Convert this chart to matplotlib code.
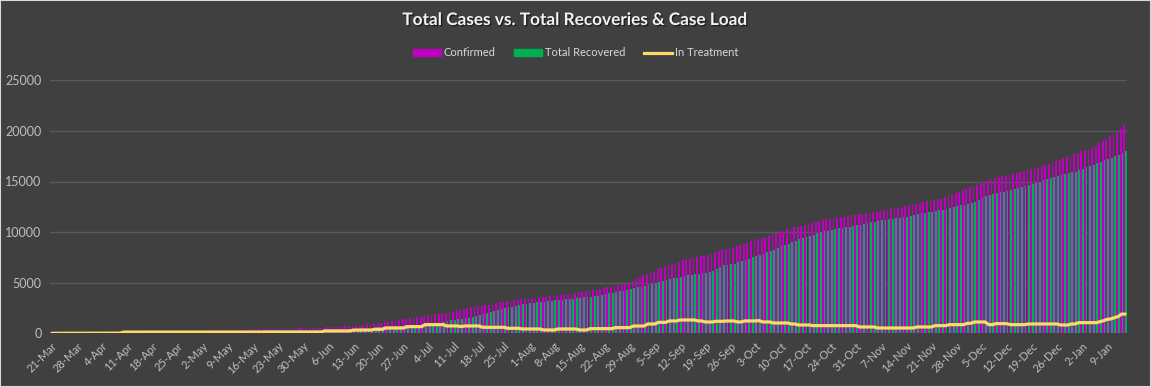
import numpy as np
import pandas as pd
import matplotlib
matplotlib.use("Agg")
import matplotlib.pyplot as plt
import matplotlib.patheffects as pe
from matplotlib.patches import Rectangle
from matplotlib.lines import Line2D

# ----------------------------------------------------------------------------
# DATA (daily, 21-Mar .. 14-Jan)
# ----------------------------------------------------------------------------
START_DATE = "2020-03-21"

confirmed = [
    1, 2, 3, 5, 6, 8, 10,
    12, 13, 14, 15, 16, 17, 18,
    19, 19, 20, 21, 22, 22, 125,
    128, 130, 133, 135, 138, 140, 142,
    145, 148, 152, 156, 160, 165, 170,
    178, 190, 205, 230, 240, 248, 255,
    262, 270, 280, 290, 300, 315, 330,
    335, 340, 345, 350, 355, 362, 370,
    378, 385, 392, 400, 408, 415, 422,
    430, 438, 445, 452, 460, 468, 476,
    484, 492, 500, 510, 520, 530, 550,
    580, 610, 625, 640, 655, 672, 690,
    710, 730, 770, 820, 870, 920, 960,
    1000, 1040, 1090, 1150, 1200, 1250, 1320,
    1380, 1430, 1480, 1530, 1590, 1645, 1700,
    1780, 1840, 1908, 1930, 1950, 1970, 2100,
    2200, 2280, 2350, 2420, 2490, 2565, 2600,
    2650, 2700, 2750, 2800, 2870, 2950, 3050,
    3125, 3170, 3210, 3250, 3300, 3355, 3390,
    3430, 3470, 3510, 3550, 3590, 3630, 3670,
    3710, 3750, 3790, 3830, 3870, 3915, 3970,
    4030, 4090, 4140, 4180, 4240, 4300, 4380,
    4470, 4530, 4600, 4680, 4750, 4800, 4900,
    5050, 5200, 5390, 5560, 5720, 5880, 6040,
    6180, 6320, 6450, 6580, 6720, 6840, 6960,
    7080, 7200, 7335, 7400, 7470, 7540, 7600,
    7630, 7750, 7870, 7990, 8100, 8220, 8310,
    8400, 8490, 8580, 8680, 8800, 8950, 9100,
    9250, 9350, 9450, 9550, 9650, 9780, 9900,
    10020, 10150, 10300, 10380, 10460, 10540, 10630,
    10720, 10810, 10900, 10990, 11080, 11180, 11250,
    11310, 11370, 11430, 11480, 11530, 11580, 11650,
    11710, 11760, 11810, 11870, 11920, 11970, 12030,
    12090, 12150, 12210, 12270, 12340, 12400, 12470,
    12600, 12670, 12740, 12810, 12880, 12960, 13030,
    13100, 13170, 13240, 13320, 13420, 13520, 13650,
    13870, 14000, 14140, 14280, 14440, 14560, 14680,
    14800, 14950, 15100, 15200, 15300, 15400, 15500,
    15590, 15680, 15770, 15860, 15940, 16020, 16120,
    16230, 16340, 16450, 16550, 16650, 16750, 16880,
    17000, 17140, 17280, 17420, 17560, 17730, 17860,
    17980, 18100, 18220, 18350, 18550, 18800, 19000,
    19210, 19450, 19700, 19900, 20200, 20560,
]

recovered = [
    0, 0, 0, 0, 0, 0, 0,
    0, 0, 0, 0, 0, 0, 0,
    0, 0, 0, 0, 0, 1, 2,
    3, 5, 8, 10, 12, 15, 18,
    22, 26, 30, 34, 38, 42, 46,
    50, 55, 60, 70, 80, 90, 100,
    110, 120, 130, 140, 150, 165, 180,
    190, 200, 210, 220, 230, 240, 250,
    258, 266, 274, 282, 290, 298, 305,
    310, 315, 320, 325, 330, 335, 340,
    345, 350, 355, 360, 365, 370, 380,
    390, 400, 410, 420, 430, 440, 450,
    440, 460, 480, 510, 540, 570, 600,
    640, 670, 700, 720, 740, 750, 765,
    780, 800, 820, 840, 860, 880, 890,
    900, 940, 980, 1020, 1100, 1200, 1280,
    1350, 1390, 1440, 1490, 1530, 1580, 1680,
    1780, 1880, 1980, 2070, 2170, 2270, 2370,
    2470, 2550, 2630, 2710, 2790, 2860, 2900,
    2950, 3000, 3050, 3090, 3130, 3170, 3220,
    3260, 3290, 3320, 3350, 3390, 3420, 3460,
    3500, 3540, 3580, 3620, 3670, 3730, 3800,
    3880, 3940, 4010, 4080, 4150, 4210, 4290,
    4370, 4450, 4540, 4620, 4710, 4800, 4880,
    4970, 5060, 5150, 5240, 5330, 5430, 5500,
    5560, 5640, 5720, 5780, 5830, 5870, 5910,
    5950, 6010, 6200, 6380, 6550, 6710, 6760,
    6800, 6880, 7040, 7160, 7280, 7390, 7500,
    7600, 7720, 7860, 7990, 8120, 8250, 8420,
    8600, 8720, 8850, 8990, 9130, 9270, 9410,
    9540, 9650, 9760, 9870, 9980, 10060, 10140,
    10220, 10300, 10390, 10440, 10500, 10550, 10610,
    10660, 10730, 10800, 10880, 10950, 11020, 11080,
    11150, 11220, 11280, 11330, 11380, 11420, 11470,
    11510, 11590, 11670, 11760, 11840, 11900, 11960,
    12020, 12080, 12140, 12220, 12300, 12390, 12480,
    12570, 12640, 12720, 12790, 12860, 13000, 13200,
    13400, 13550, 13650, 13740, 13830, 13920, 14000,
    14080, 14180, 14280, 14380, 14470, 14570, 14680,
    14790, 14900, 15000, 15100, 15200, 15300, 15420,
    15520, 15610, 15700, 15800, 15900, 15980, 16100,
    16250, 16400, 16550, 16650, 16800, 16950, 17100,
    17200, 17350, 17500, 17650, 17820, 17990,
]

in_treatment = [
    1, 2, 3, 5, 6, 8, 10,
    12, 13, 14, 15, 16, 17, 18,
    19, 19, 20, 21, 22, 21, 120,
    122, 122, 122, 122, 122, 122, 122,
    122, 122, 122, 122, 122, 122, 122,
    122, 122, 122, 122, 122, 122, 122,
    122, 122, 122, 122, 122, 122, 122,
    122, 122, 122, 122, 122, 122, 122,
    122, 122, 122, 122, 122, 122, 122,
    125, 125, 125, 125, 125, 125, 125,
    125, 125, 125, 125, 125, 125, 230,
    230, 230, 230, 230, 230, 230, 230,
    320, 320, 320, 320, 320, 320, 395,
    395, 395, 526, 526, 526, 526, 526,
    526, 660, 660, 660, 660, 660, 855,
    855, 855, 855, 855, 855, 724, 724,
    724, 724, 658, 724, 724, 724, 724,
    724, 592, 592, 592, 592, 592, 592,
    592, 493, 493, 493, 493, 428, 428,
    428, 428, 428, 428, 329, 329, 329,
    329, 428, 428, 428, 428, 428, 428,
    329, 329, 329, 460, 460, 460, 460,
    460, 460, 460, 560, 560, 560, 560,
    560, 720, 720, 720, 720, 920, 920,
    920, 1085, 1085, 1085, 1220, 1220, 1220,
    1315, 1315, 1315, 1315, 1315, 1220, 1220,
    1120, 1120, 1120, 1185, 1185, 1185, 1220,
    1220, 1220, 1120, 1120, 1220, 1220, 1220,
    1220, 1250, 1120, 1120, 1120, 1020, 1020,
    1020, 1020, 1020, 920, 920, 820, 820,
    820, 820, 757, 757, 757, 757, 757,
    757, 757, 757, 757, 757, 757, 757,
    757, 625, 625, 625, 625, 625, 526,
    526, 526, 526, 526, 526, 526, 526,
    526, 526, 526, 625, 625, 625, 625,
    625, 757, 757, 757, 757, 855, 855,
    855, 855, 855, 987, 987, 1118, 1118,
    1118, 1118, 855, 855, 954, 954, 954,
    954, 855, 855, 855, 855, 855, 921,
    921, 921, 921, 921, 921, 921, 921,
    921, 822, 822, 822, 921, 921, 1053,
    1053, 1053, 1053, 1053, 1053, 1150, 1250,
    1380, 1420, 1546, 1650, 1900, 1900,
]

Y_TICKS = [0, 5000, 10000, 15000, 20000, 25000]
TICK_EVERY = 7

# ----------------------------------------------------------------------------
# STYLE
# ----------------------------------------------------------------------------
BG = "#404040"
C_CONF = "#C000C0"
C_REC = "#00B050"
C_TREAT = "#FFD966"
C_TEXT = "#D9D9D9"
C_GRID = "#5A5A5A"

dates = pd.date_range(START_DATE, periods=len(confirmed), freq="D")
labels = [f"{d.day}-{d.strftime('%b')}" for d in dates]
x = np.arange(len(dates))

plt.rcParams["font.family"] = ["Lato", "DejaVu Sans"]

fig = plt.figure(figsize=(11.51, 3.87), dpi=100, facecolor=BG)
ax = fig.add_axes([50 / 1151, 1 - 333.3 / 387, 1077 / 1151, 253 / 387])
ax.set_facecolor(BG)

# clustered columns: magenta left, green right (green drawn on top)
w = 0.5
off = 0.24
ax.bar(x - off, confirmed, w, color=C_CONF, linewidth=0, zorder=2,
       antialiased=False)
ax.bar(x + off, recovered, w, color=C_REC, linewidth=0, zorder=2.1,
       antialiased=False)
ax.plot(x, in_treatment, color=C_TREAT, lw=2.3, zorder=3,
        solid_joinstyle="round", solid_capstyle="round")

ax.set_xlim(-0.5, len(x) - 0.5)
ax.set_ylim(0, 25000)
ax.set_yticks(Y_TICKS)
ax.set_yticklabels([str(v) for v in Y_TICKS], color="#BFBFBF", fontsize=9)
ax.set_xticks(x[::TICK_EVERY])
ax.set_xticklabels(labels[::TICK_EVERY], rotation=45, ha="right",
                   rotation_mode="anchor", color="#BFBFBF", fontsize=8)
ax.tick_params(axis="both", length=0, pad=6)
ax.tick_params(axis="x", pad=5)
ax.grid(True, axis="y", color=C_GRID, lw=1)
ax.set_axisbelow(True)
for s in ax.spines.values():
    s.set_visible(False)

# title
fig.text(0.5, 1 - 20 / 387, "Total Cases vs. Total Recoveries & Case Load",
         ha="center", va="center", fontsize=12.4, fontweight="bold", color="#F2F2F2",
         path_effects=[pe.withSimplePatchShadow(offset=(1, -1), shadow_rgbFace="black", alpha=0.5)])

# legend
handles = [Rectangle((0, 0), 1, 1, color=C_CONF),
           Rectangle((0, 0), 1, 1, color=C_REC),
           Line2D([0], [0], color=C_TREAT, lw=2.3)]
leg = fig.legend(handles, ["Confirmed", "Total Recovered", "In Treatment"],
                 loc="center", bbox_to_anchor=(0.5, 1 - 53 / 387), ncol=3,
                 frameon=False, fontsize=8, handlelength=2.5, handleheight=0.55,
                 handletextpad=0.25, columnspacing=1.7, labelcolor=C_TEXT)

# outer frame
fig.patches.append(Rectangle((0, 0), 1, 1, transform=fig.transFigure,
                             fill=False, edgecolor="#D9D9D9", lw=1.5))

fig.savefig("out.png", dpi=100, facecolor=BG)
